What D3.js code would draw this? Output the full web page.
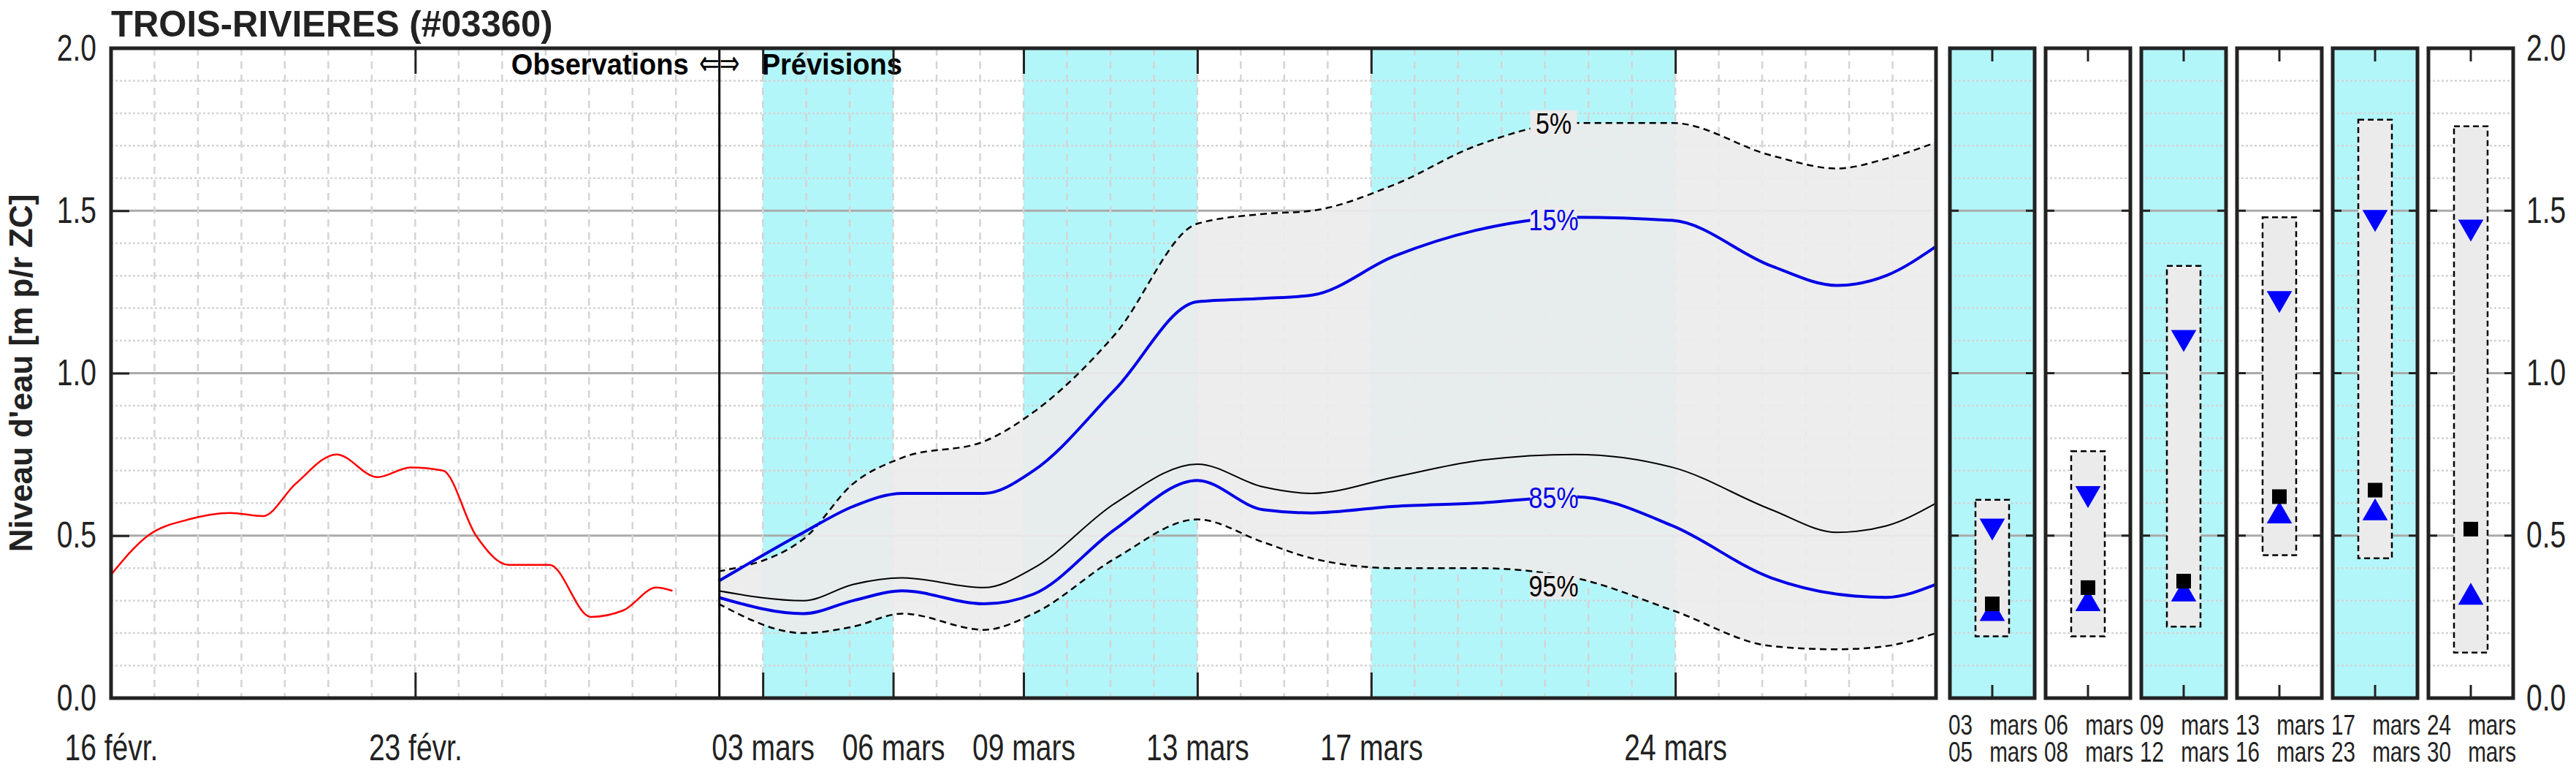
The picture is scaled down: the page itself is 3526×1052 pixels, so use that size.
<!DOCTYPE html>
<html><head><meta charset="utf-8">
<script src="https://cdn.jsdelivr.net/npm/d3@7"></script>
<style>body{margin:0;background:#fff}</style>
</head><body><div id="chart"></div>
<script>
// day offsets from 16 févr
const obsDays = [0, 0.85, 1.79, 2.74, 3.49, 4.25, 5.19, 6.13, 6.89, 7.64, 8.4, 9.15, 10.09, 11.04, 11.79, 12.55, 12.92];
const obsLevel = [0.38, 0.50, 0.55, 0.57, 0.56, 0.66, 0.75, 0.68, 0.71, 0.70, 0.50, 0.41, 0.41, 0.25, 0.27, 0.34, 0.33];

const fcDays = [13.98, 15.94, 17.08, 18.21, 20.09, 21.23, 23.11, 25.0, 26.51, 27.64, 29.53, 31.42, 33.68, 35.94, 38.21, 39.72, 40.85, 42];
const p05 = [0.39, 0.49, 0.66, 0.74, 0.79, 0.88, 1.12, 1.46, 1.49, 1.50, 1.58, 1.70, 1.77, 1.77, 1.67, 1.63, 1.66, 1.71];
const p15 = [0.36, 0.51, 0.59, 0.63, 0.63, 0.70, 0.95, 1.22, 1.23, 1.24, 1.36, 1.44, 1.48, 1.47, 1.33, 1.27, 1.30, 1.39];
const p50 = [0.33, 0.30, 0.35, 0.37, 0.34, 0.40, 0.60, 0.72, 0.65, 0.63, 0.68, 0.73, 0.75, 0.71, 0.58, 0.51, 0.53, 0.60];
const p85 = [0.31, 0.26, 0.30, 0.33, 0.29, 0.32, 0.52, 0.67, 0.58, 0.57, 0.59, 0.60, 0.62, 0.53, 0.37, 0.32, 0.31, 0.35];
const p95 = [0.29, 0.20, 0.22, 0.26, 0.21, 0.26, 0.43, 0.55, 0.48, 0.43, 0.40, 0.40, 0.37, 0.27, 0.16, 0.15, 0.16, 0.20];

const tickDays = [0, 7, 15, 18, 21, 25, 29, 36];
const tickLabels = ["16 févr.", "23 févr.", "03 mars", "06 mars", "09 mars", "13 mars", "17 mars", "24 mars"];
const bands = [[15, 18], [21, 25], [29, 36]];
const forecastStart = 14;

const panelTop = ["03", "06", "09", "13", "17", "24"];
const panelBottom = ["05", "08", "12", "16", "23", "30"];
const panelMax = [0.61, 0.76, 1.33, 1.48, 1.78, 1.76];
const panelMin = [0.19, 0.19, 0.22, 0.44, 0.43, 0.14];
const panelP15 = [0.53, 0.63, 1.11, 1.23, 1.48, 1.45];
const panelMed = [0.29, 0.34, 0.36, 0.62, 0.64, 0.52];
const panelP85 = [0.26, 0.29, 0.32, 0.56, 0.57, 0.31];
const panelCyan = [true, false, true, false, true, false];

const W = 3526, H = 1052;
const yTop = 66, yBot = 955;
const FONT = "'Liberation Sans',Arial,sans-serif";
const CYAN = "#b3f6fa", GREY = "#ebebeb";
const K = 0.78; // horizontal squeeze to mimic a condensed face

const svg = d3.select("#chart").append("svg").attr("width", W).attr("height", H)
  .style("font-family", FONT);

const y = d3.scaleLinear().domain([0, 2]).range([yBot, yTop]);
const x = d3.scaleLinear().domain([0, 42]).range([152, 2650]);

function condense(sel, k) {
  sel.each(function () {
    const t = d3.select(this);
    t.attr("x", (+t.attr("x") || 0) / k).attr("transform", `scale(${k},1)`);
  });
}

function grid(g, x0, x1, vlines) {
  d3.range(1, 20).forEach(i => {
    const v = i / 10;
    const major = i % 5 === 0;
    g.append("line").attr("x1", x0).attr("x2", x1).attr("y1", y(v)).attr("y2", y(v))
      .attr("stroke", major ? "#aaa" : "#d4d4d4").attr("stroke-width", major ? 3 : 2.5)
      .attr("stroke-dasharray", major ? null : "3,3");
  });
  (vlines || []).forEach(px => {
    g.append("line").attr("x1", px).attr("x2", px).attr("y1", yTop).attr("y2", yBot)
      .attr("stroke", "#d4d4d4").attr("stroke-width", 2.5).attr("stroke-dasharray", "10,8");
  });
}

// main panel
const main = svg.append("g");
bands.forEach(b => main.append("rect").attr("x", x(b[0])).attr("width", x(b[1]) - x(b[0]))
  .attr("y", yTop).attr("height", yBot - yTop).attr("fill", CYAN));
grid(main, x(0), x(42), d3.range(1, 42).map(d => x(d)));

const fc = fcDays.map((d, i) => ({ d, a: p05[i], b: p15[i], m: p50[i], c: p85[i], e: p95[i] }));
const curve = d3.curveMonotoneX;
main.append("path").datum(fc).attr("fill", GREY).attr("fill-opacity", 0.92)
  .attr("d", d3.area().x(p => x(p.d)).y0(p => y(p.e)).y1(p => y(p.a)).curve(curve));
const ln = key => d3.line().x(p => x(p.d)).y(p => y(p[key])).curve(curve);
main.append("path").datum(fc).attr("fill", "none").attr("stroke", "#000").attr("stroke-width", 2.5).attr("stroke-dasharray", "9,6").attr("d", ln("a"));
main.append("path").datum(fc).attr("fill", "none").attr("stroke", "#000").attr("stroke-width", 2.5).attr("stroke-dasharray", "9,6").attr("d", ln("e"));
main.append("path").datum(fc).attr("fill", "none").attr("stroke", "#000").attr("stroke-width", 2).attr("d", ln("m"));
main.append("path").datum(fc).attr("fill", "none").attr("stroke", "#0000e6").attr("stroke-width", 4).attr("d", ln("b"));
main.append("path").datum(fc).attr("fill", "none").attr("stroke", "#0000e6").attr("stroke-width", 4).attr("d", ln("c"));

const obs = obsDays.map((d, i) => ({ d, v: obsLevel[i] }));
main.append("path").datum(obs).attr("fill", "none").attr("stroke", "#f00").attr("stroke-width", 2.5)
  .attr("d", d3.line().x(p => x(p.d)).y(p => y(p.v)).curve(d3.curveMonotoneX));

// percentile labels
const labDay = 33.2;
const interp = arr => d3.scaleLinear().domain(fcDays).range(arr)(labDay);
[["5%", p05, "#000", -6], ["15%", p15, "#0000e6", 0], ["85%", p85, "#0000e6", 0], ["95%", p95, "#000", 14]].forEach(([t, arr, col, dy]) => {
  const yy = y(interp(arr)) + dy;
  main.append("rect").attr("x", x(labDay) - 32).attr("y", yy - 18).attr("width", 64).attr("height", 36).attr("fill", GREY);
  main.append("text").attr("x", x(labDay)).attr("y", yy).attr("dy", "0.35em").attr("text-anchor", "middle")
    .attr("font-size", 40).attr("fill", col).text(t).call(condense, 0.85);
});

// divider
main.append("line").attr("x1", x(forecastStart)).attr("x2", x(forecastStart)).attr("y1", yTop).attr("y2", yBot)
  .attr("stroke", "#000").attr("stroke-width", 3);
main.append("text").attr("x", x(forecastStart) - 42).attr("y", yTop + 36).attr("text-anchor", "end")
  .attr("font-size", 40).attr("font-weight", "bold").text("Observations").call(condense, 0.95);
main.append("text").attr("x", x(forecastStart)).attr("y", yTop + 36).attr("text-anchor", "middle")
  .attr("font-size", 46).attr("font-family", "'DejaVu Sans',sans-serif").text("⇐⇒").call(condense, 0.72);
main.append("text").attr("x", x(forecastStart) + 58).attr("y", yTop + 36)
  .attr("font-size", 40).attr("font-weight", "bold").text("Prévisions").call(condense, 0.95);

// axes
const xb = main.append("g").attr("transform", `translate(0,${yBot})`)
  .call(d3.axisBottom(x).tickValues(tickDays).tickFormat((d, i) => tickLabels[i]).tickSizeInner(-35).tickSizeOuter(0).tickPadding(50));
const xt = main.append("g").attr("transform", `translate(0,${yTop})`)
  .call(d3.axisTop(x).tickValues(tickDays).tickFormat("").tickSizeInner(-35).tickSizeOuter(0));
const yl = main.append("g").attr("transform", `translate(${x(0)},0)`)
  .call(d3.axisLeft(y).tickValues([0, 0.5, 1, 1.5, 2]).tickFormat(d3.format(".1f")).tickSizeInner(-25).tickSizeOuter(0).tickPadding(20));
[xb, xt, yl].forEach(g => {
  g.selectAll("line").attr("stroke", "#222").attr("stroke-width", 3);
  g.select(".domain").remove();
  g.selectAll("text").attr("font-size", 50).attr("fill", "#222").style("font-family", FONT).call(condense, K);
});
main.append("rect").attr("x", x(0)).attr("y", yTop).attr("width", x(42) - x(0)).attr("height", yBot - yTop)
  .attr("fill", "none").attr("stroke", "#222").attr("stroke-width", 5);

// side panels
const pw = 116, pstep = 131, p0 = 2669;
panelTop.forEach((lab, i) => {
  const g = svg.append("g");
  const x0 = p0 + i * pstep, xc = x0 + pw / 2;
  if (panelCyan[i]) g.append("rect").attr("x", x0).attr("y", yTop).attr("width", pw).attr("height", yBot - yTop).attr("fill", CYAN);
  grid(g, x0, x0 + pw);
  g.append("rect").attr("x", xc - 23).attr("width", 46).attr("y", y(panelMax[i])).attr("height", y(panelMin[i]) - y(panelMax[i]))
    .attr("fill", GREY).attr("stroke", "#000").attr("stroke-width", 2.5).attr("stroke-dasharray", "8,5");
  const tri = d3.symbol().type(d3.symbolTriangle).size(520);
  g.append("path").attr("d", tri()).attr("transform", `translate(${xc},${y(panelP15[i])}) rotate(180)`).attr("fill", "#0000ff");
  g.append("path").attr("d", tri()).attr("transform", `translate(${xc},${y(panelP85[i])})`).attr("fill", "#0000ff");
  g.append("rect").attr("x", xc - 10).attr("y", y(panelMed[i]) - 10).attr("width", 20).attr("height", 20).attr("fill", "#000");
  g.append("line").attr("x1", xc).attr("x2", xc).attr("y1", yBot).attr("y2", yBot - 18).attr("stroke", "#222").attr("stroke-width", 3);
  g.append("line").attr("x1", xc).attr("x2", xc).attr("y1", yTop).attr("y2", yTop + 18).attr("stroke", "#222").attr("stroke-width", 3);
  [0.5, 1, 1.5].forEach(v => {
    g.append("line").attr("x1", x0).attr("x2", x0 + 12).attr("y1", y(v)).attr("y2", y(v)).attr("stroke", "#222").attr("stroke-width", 3);
    g.append("line").attr("x1", x0 + pw - 12).attr("x2", x0 + pw).attr("y1", y(v)).attr("y2", y(v)).attr("stroke", "#222").attr("stroke-width", 3);
  });
  g.append("rect").attr("x", x0).attr("y", yTop).attr("width", pw).attr("height", yBot - yTop)
    .attr("fill", "none").attr("stroke", "#222").attr("stroke-width", 5);
  [[lab, 1005], [panelBottom[i], 1042]].forEach(([t, yy]) => {
    g.append("text").attr("x", x0 - 2).attr("y", yy).attr("font-size", 38).attr("fill", "#222").text(t).call(condense, K);
    g.append("text").attr("x", x0 + pw + 4).attr("y", yy).attr("text-anchor", "end").attr("font-size", 38).attr("fill", "#222").text("mars").call(condense, K);
  });
});
const yr = svg.append("g").attr("transform", `translate(${p0 + 5 * pstep + pw},0)`)
  .call(d3.axisRight(y).tickValues([0, 0.5, 1, 1.5, 2]).tickFormat(d3.format(".1f")).tickSize(0).tickPadding(18));
yr.select(".domain").remove();
yr.selectAll("text").attr("font-size", 50).attr("fill", "#222").style("font-family", FONT).call(condense, K);

// titles
svg.append("text").attr("x", 152).attr("y", 50).attr("font-size", 50).attr("font-weight", "bold")
  .attr("fill", "#222").text("TROIS-RIVIERES (#03360)").call(condense, 0.98);
svg.append("text").attr("transform", `translate(44,${(yTop + yBot) / 2}) rotate(-90)`).attr("text-anchor", "middle")
  .attr("font-size", 44).attr("font-weight", "bold").attr("fill", "#222")
  .text("Niveau d'eau [m p/r ZC]");
</script></body></html>
